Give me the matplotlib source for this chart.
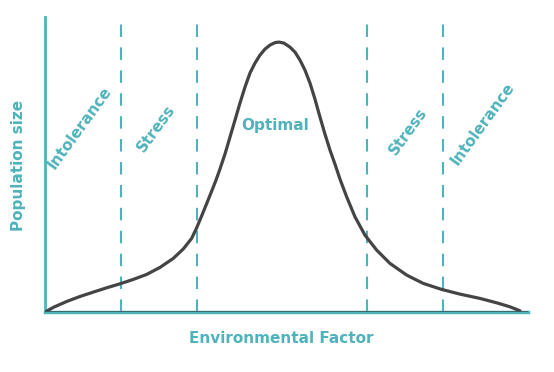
import matplotlib
matplotlib.use("Agg")
import matplotlib.pyplot as plt

# Curve (environmental factor vs population size, 0-100 scales)
env_factor = [0, 1.72, 4.49, 7.25, 10.0, 12.77, 15.53, 18.28, 21.06, 23.81,
              26.56, 28.63, 30.37, 31.41, 32.44, 33.48, 34.51, 35.40, 36.23,
              37.27, 38.30, 39.34, 40.37, 41.41, 42.44, 43.48, 44.51, 45.55,
              46.58, 47.62, 48.45, 49.48, 50.72, 51.76, 52.80, 53.83, 54.87,
              55.90, 56.94, 57.97, 59.01, 60.04, 61.08, 62.46, 64.18, 66.25,
              68.67, 71.43, 74.89, 78.32, 82.13, 85.92, 90.06, 93.52, 96.27,
              98.34]
population = [0, 1.6, 3.6, 5.3, 6.78, 8.24, 9.59, 11.08, 12.78, 15.15,
              18.20, 21.4, 25.0, 28.6, 32.6, 36.8, 41.0, 44.7, 48.5,
              53.6, 59.3, 65.08, 70.85, 76.27, 81.02, 84.41, 87.12, 89.15,
              90.51, 91.36, 91.53, 91.19, 89.83, 88.14, 85.42, 82.03, 77.63,
              72.20, 66.10, 60.34, 54.92, 50.17, 45.08, 39.08, 32.31, 26.10,
              21.02, 16.51, 12.54, 9.73, 7.69, 6.10, 4.64, 3.15, 1.80,
              0.44]

# Zone boundaries and labels
boundaries = [15.7, 31.5, 66.7, 82.4]
zone_labels = ["Intolerance", "Stress", "Optimal", "Stress", "Intolerance"]

teal = "#4fb3bb"
dark = "#444444"
font = ["DejaVu Sans"]

fig = plt.figure(figsize=(5.54, 3.72), dpi=100)
ax = fig.add_axes([0.0812, 0.161, 0.953 - 0.0812, 0.954 - 0.161])
ax.set_xlim(0, 100)
ax.set_ylim(0, 100)

for b in boundaries:
    ax.plot([b, b], [0, 100], color=teal, lw=1.5, dashes=(6, 5), zorder=1)

ax.plot(env_factor, population, color=dark, lw=2.3, solid_capstyle="round",
        solid_joinstyle="round", zorder=3)
ax.axhline(0, color="#3d5a63", lw=1.2, zorder=4)

for side in ["top", "right"]:
    ax.spines[side].set_visible(False)
ax.spines["left"].set_color(teal)
ax.spines["left"].set_linewidth(2)
ax.spines["bottom"].set_color(teal)
ax.spines["bottom"].set_linewidth(2.5)
ax.set_xticks([])
ax.set_yticks([])

# zone labels
label_pos = [(7.2, 62.4, 54), (23.0, 62.4, 54), (47.6, 63.4, 0),
             (75.2, 61.4, 54), (90.7, 63.7, 54)]
for text, (x, y, rot) in zip(zone_labels, label_pos):
    ax.text(x, y, text, rotation=rot, ha="center", va="center", color=teal,
            fontsize=11, fontweight="bold", family=font,
            rotation_mode="anchor")

fig.text(0.0325, 0.556, "Population size", rotation=90, ha="center", va="center",
         color=teal, fontsize=11, fontweight="bold", family=font)
fig.text(0.507, 0.091, "Environmental Factor", ha="center", va="center",
         color=teal, fontsize=11, fontweight="bold", family=font)

fig.savefig("out.png", dpi=100)
